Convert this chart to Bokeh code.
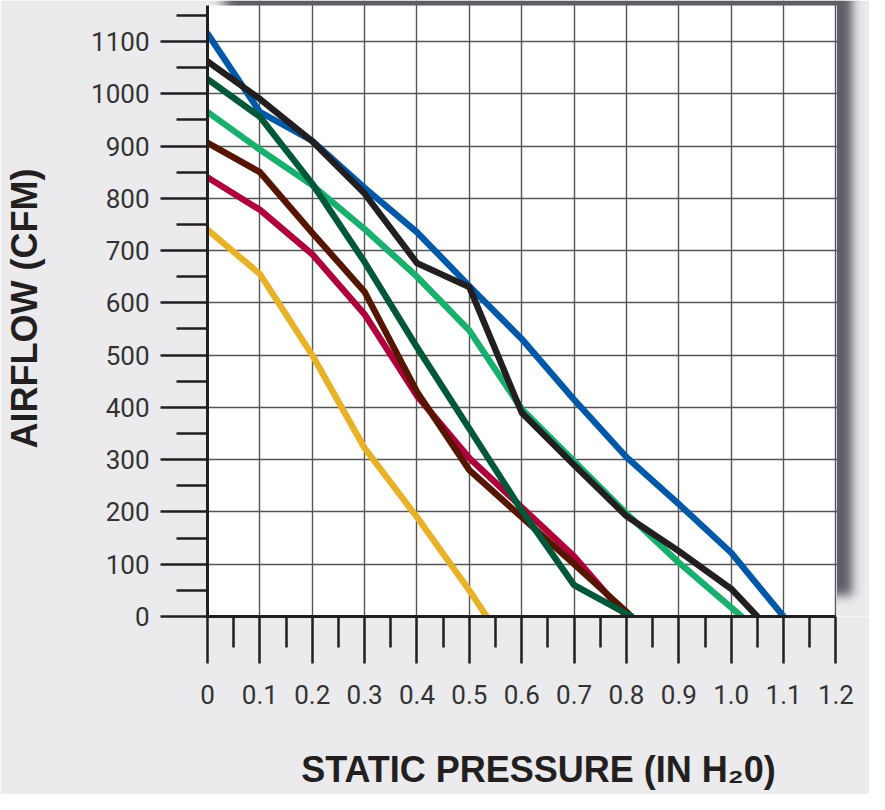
import math
import numpy as np
from bokeh.plotting import figure
from bokeh.models import FixedTicker, Range1d
from bokeh.embed import file_html
from bokeh.resources import INLINE

# ---------------- data ----------------
x_tick_values = [0, 0.1, 0.2, 0.3, 0.4, 0.5, 0.6, 0.7, 0.8, 0.9, 1.0, 1.1, 1.2]
x_tick_labels = ["0", "0.1", "0.2", "0.3", "0.4", "0.5", "0.6", "0.7", "0.8", "0.9", "1.0", "1.1", "1.2"]
y_tick_values = [0, 100, 200, 300, 400, 500, 600, 700, 800, 900, 1000, 1100]
y_tick_labels = ["0", "100", "200", "300", "400", "500", "600", "700", "800", "900", "1000", "1100"]

yellow_p = [0, 0.1, 0.2, 0.3, 0.4, 0.5, 0.533]
yellow_cfm = [740, 655, 500, 322, 190, 50, 0]

crimson_p = [0, 0.1, 0.2, 0.3, 0.4, 0.5, 0.6, 0.7, 0.8]
crimson_cfm = [840, 778, 693, 578, 422, 303, 209, 115, 0]

brown_p = [0, 0.1, 0.2, 0.3, 0.4, 0.5, 0.6, 0.7, 0.81]
brown_cfm = [906, 850, 734, 621, 430, 280, 190, 100, 0]

lightgreen_p = [0, 0.1, 0.2, 0.3, 0.4, 0.5, 0.6, 0.7, 0.8, 0.9, 1.02]
lightgreen_cfm = [965, 893, 825, 741, 650, 547, 397, 297, 197, 103, 0]

blue_p = [0, 0.1, 0.2, 0.3, 0.4, 0.5, 0.6, 0.7, 0.8, 0.9, 1.0, 1.1]
blue_cfm = [1115, 965, 910, 820, 735, 632, 531, 415, 305, 215, 122, 0]

black_p = [0, 0.1, 0.2, 0.3, 0.4, 0.5, 0.6, 0.7, 0.8, 0.9, 1.0, 1.05]
black_cfm = [1062, 990, 909, 809, 676, 630, 390, 290, 192, 125, 53, 0]

darkgreen_p = [0, 0.1, 0.2, 0.3, 0.4, 0.5, 0.6, 0.7, 0.81]
darkgreen_cfm = [1028, 956, 828, 678, 515, 359, 203, 60, 0]

series = [
    (yellow_p, yellow_cfm, "#e8b228"),
    (crimson_p, crimson_cfm, "#b0003c"),
    (brown_p, brown_cfm, "#561500"),
    (lightgreen_p, lightgreen_cfm, "#19b06e"),
    (blue_p, blue_cfm, "#0059a8"),
    (black_p, black_cfm, "#231f20"),
    (darkgreen_p, darkgreen_cfm, "#005838"),
]

# ---------------- layout (whole chart scaled to fit the window) ----------------
REF_W, REF_H = 885, 810
W, H = 869, 794
SX, SY = W / REF_W, H / REF_H
FRAME_LEFT = 207
FRAME_BOTTOM = 616
FRAME_W = W - FRAME_LEFT
FRAME_H = FRAME_BOTTOM
PX_PER_X = 533.33 * SX     # pixels per unit of pressure
PX_PER_Y = 0.5333 * SY     # pixels per cfm
x_end = FRAME_W / PX_PER_X
y_end = FRAME_H / PX_PER_Y
panel_right = x_tick_values[-1]
panel_top = 1168.7

BG = "#ebebed"
INK = "#231f20"
TICK_FONT = "Roboto"
TITLE_FONT = "Liberation Sans"

p = figure(width=W, height=H,
           x_range=Range1d(0, x_end), y_range=Range1d(0, y_end),
           output_backend="svg", toolbar_location=None,
           min_border_left=FRAME_LEFT, min_border_right=0,
           min_border_top=0, min_border_bottom=H - FRAME_BOTTOM,
           background_fill_color="white", border_fill_color=BG,
           outline_line_color=None)

# ---- axes ----
xminor = [(a + b) / 2 for a, b in zip(x_tick_values[:-1], x_tick_values[1:])]
yminor = [v + 50 for v in y_tick_values]

p.xaxis.ticker = FixedTicker(ticks=x_tick_values, minor_ticks=xminor)
p.yaxis.ticker = FixedTicker(ticks=y_tick_values, minor_ticks=yminor)
p.xaxis.major_label_overrides = dict(zip(x_tick_values, x_tick_labels))
p.yaxis.major_label_overrides = dict(zip(y_tick_values, y_tick_labels))
p.xaxis.bounds = (0, panel_right)
p.yaxis.bounds = (0, panel_top)

for ax in (p.xaxis[0], p.yaxis[0]):
    ax.axis_line_color = INK
    ax.axis_line_width = 3
    ax.major_tick_line_color = INK
    ax.major_tick_line_width = 2.5
    ax.minor_tick_line_color = INK
    ax.minor_tick_line_width = 2.5
    ax.major_tick_in = 0
    ax.minor_tick_in = 0
    ax.major_tick_out = 47
    ax.minor_tick_out = 31
    ax.major_label_text_font = TICK_FONT
    ax.major_label_text_font_size = "26px"
    ax.major_label_text_color = "#333333"
    ax.axis_label_text_font = TITLE_FONT
    ax.axis_label_text_font_style = "bold"
    ax.axis_label_text_font_size = "36px"
    ax.axis_label_text_color = INK

p.xaxis.major_label_standoff = 21
p.yaxis.major_label_standoff = 11
p.xaxis.axis_label = "STATIC PRESSURE (IN H\u20820)"
p.yaxis.axis_label = "AIRFLOW (CFM)"
p.xaxis.axis_label_standoff = 42
p.yaxis.axis_label_standoff = 43

# ---- grid ----
p.xgrid.ticker = FixedTicker(ticks=x_tick_values[1:])
p.ygrid.ticker = FixedTicker(ticks=y_tick_values[1:])
for g in (p.xgrid[0], p.ygrid[0]):
    g.grid_line_color = "#555555"
    g.grid_line_width = 1.4

# ---- curves ----
for xs, ys, col in series:
    p.line(xs, ys, line_color=col, line_width=6.4,
           line_cap="round", line_join="round")

# ---- drop shadow round the top and right of the panel (decoration) ----
def phi(t):
    return 0.5 * (1 + np.vectorize(math.erf)(t / math.sqrt(2)))

bg = np.array([235, 235, 237], dtype=float)
sc = np.array([93, 94, 102], dtype=float)

def shadow_image(xa, xb, ya, yb):
    nc = max(1, int(round((xb - xa) * PX_PER_X)))
    nr = max(1, int(round((yb - ya) * PX_PER_Y)))
    cx = FRAME_LEFT + (xa + (np.arange(nc) + 0.5) / nc * (xb - xa)) * PX_PER_X
    cy = FRAME_BOTTOM - (ya + (np.arange(nr) + 0.5) / nr * (yb - ya)) * PX_PER_Y
    rx = cx / SX
    ry = cy / SY
    ax_ = phi((rx - 228) / 7.0) * phi((867 - rx) / 5.0)
    ay_ = phi((607 - ry) / 5.0)
    a = ay_[:, None] * ax_[None, :]
    rgb = bg[None, None, :] * (1 - a[..., None]) + sc[None, None, :] * a[..., None]
    img = np.empty((nr, nc), dtype=np.uint32)
    view = img.view(dtype=np.uint8).reshape((nr, nc, 4))
    view[..., :3] = np.clip(np.round(rgb), 0, 255).astype(np.uint8)
    view[..., 3] = 255
    p.image_rgba(image=[img], x=xa, y=ya, dw=xb - xa, dh=yb - ya)

x0 = panel_right + 1.0 / PX_PER_X
shadow_image(x0, x_end, 0, y_end)
shadow_image(0, x0, panel_top, y_end)

html = file_html(p, INLINE)
html = html.replace("<body>", '<body style="background-color:#ebebed;">', 1)
open("out.html", "w").write(html)
